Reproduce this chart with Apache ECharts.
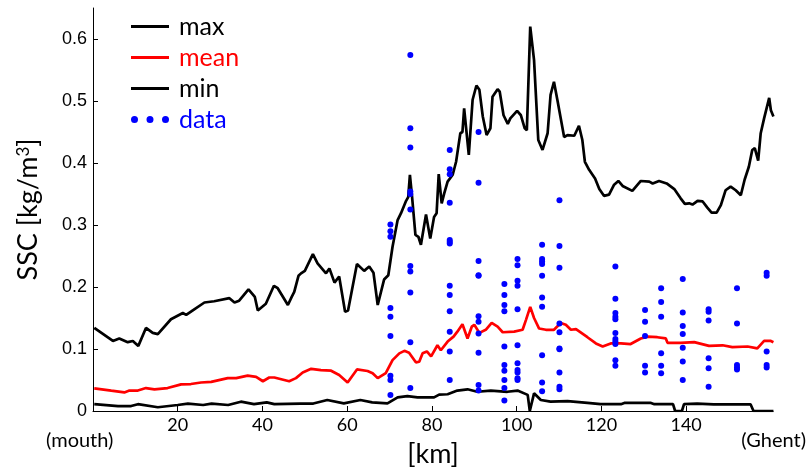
<!DOCTYPE html>
<html>
<head>
<meta charset="utf-8">
<script src="https://cdn.jsdelivr.net/npm/echarts@6/dist/echarts.min.js"></script>
<style>html,body{margin:0;padding:0;background:#fff}#c{width:808px;height:473px}</style>
</head>
<body>
<div id="c"></div>
<script>
// ---- data ----
const maxLine = [[0.3,0.134],[4.7,0.113],[6.2,0.117],[8.2,0.111],[9.4,0.113],[10.7,0.105],[12.5,0.134],[14.1,0.126],[15.3,0.124],[18.4,0.148],[21.2,0.158],[22,0.155],[23.9,0.164],[26.3,0.175],[28.6,0.177],[32.2,0.182],[33.4,0.175],[34.5,0.178],[36.7,0.196],[38.2,0.184],[38.9,0.162],[40.8,0.173],[42.7,0.202],[43.6,0.198],[46,0.171],[46.9,0.184],[47.5,0.192],[48.5,0.218],[49.1,0.222],[50,0.226],[51.9,0.253],[53,0.238],[55,0.222],[55.8,0.230],[57,0.207],[58.1,0.217],[59.5,0.160],[60.2,0.162],[62.3,0.237],[64,0.226],[65.2,0.233],[66.2,0.223],[67.2,0.171],[68.7,0.212],[69.7,0.219],[70.7,0.265],[71.9,0.308],[72.7,0.319],[73.9,0.339],[74.4,0.345],[74.8,0.381],[75.3,0.346],[76.1,0.284],[76.8,0.281],[77.4,0.268],[78.6,0.317],[79.6,0.278],[80.5,0.313],[81.1,0.319],[81.6,0.382],[82.3,0.335],[82.9,0.351],[83.7,0.370],[84.9,0.381],[85.7,0.402],[86.7,0.448],[87.2,0.450],[87.6,0.488],[88.7,0.413],[89.6,0.502],[90.5,0.525],[91.2,0.518],[92,0.475],[92.9,0.445],[93.8,0.456],[94.3,0.507],[95.5,0.519],[96,0.515],[96.9,0.477],[97.9,0.463],[98.5,0.472],[100.1,0.484],[101,0.477],[101.9,0.456],[102.4,0.453],[103.2,0.62],[104.1,0.566],[105.1,0.437],[106.1,0.421],[107.3,0.448],[108,0.51],[108.8,0.531],[109.6,0.502],[111.2,0.442],[112,0.445],[113.6,0.444],[114.7,0.460],[115.5,0.437],[116.1,0.402],[117.1,0.389],[118.5,0.375],[119.5,0.358],[120.6,0.347],[121.8,0.349],[123,0.365],[124,0.371],[125,0.363],[127.3,0.355],[129.3,0.371],[131.3,0.370],[132.1,0.367],[133.6,0.371],[135.4,0.367],[137.2,0.358],[138.7,0.343],[139.7,0.334],[140.7,0.335],[141.5,0.333],[142.7,0.339],[143.9,0.338],[145,0.328],[146,0.320],[147.2,0.320],[148.2,0.332],[149.3,0.356],[150.5,0.362],[151.7,0.356],[152.9,0.348],[153.8,0.373],[154.8,0.394],[155.6,0.421],[156.2,0.424],[157,0.404],[157.6,0.448],[158.4,0.472],[159.6,0.505],[160,0.485],[160.6,0.475]];

const meanLine = [[0.3,0.0366],[4.3,0.0328],[7.4,0.030],[8.6,0.033],[10.6,0.033],[12.5,0.037],[14.5,0.035],[17.6,0.037],[20.8,0.043],[23.1,0.0435],[25.5,0.046],[27.9,0.047],[31.8,0.053],[33.8,0.053],[36.5,0.057],[38.5,0.055],[40.1,0.048],[41.6,0.054],[42.8,0.054],[46.3,0.048],[47.9,0.053],[49.5,0.062],[51.5,0.068],[53.8,0.066],[56.2,0.065],[58.1,0.058],[60.1,0.046],[62.3,0.067],[64.8,0.0645],[66,0.061],[67.2,0.053],[69.1,0.061],[70.7,0.082],[72.3,0.093],[73.5,0.097],[74.6,0.094],[76.2,0.0785],[77,0.0795],[77.8,0.093],[78.8,0.096],[79.8,0.088],[81.3,0.106],[82.1,0.098],[83.7,0.112],[85.1,0.120],[86,0.128],[87.2,0.140],[88.4,0.117],[89.4,0.136],[90,0.139],[91.2,0.126],[92.7,0.131],[94.1,0.142],[95.5,0.136],[96.7,0.127],[99.4,0.128],[101.4,0.131],[102.2,0.147],[103.2,0.168],[104.1,0.150],[105.3,0.133],[106.9,0.131],[108.8,0.131],[110.4,0.142],[111.6,0.139],[112.8,0.131],[114,0.132],[116.7,0.119],[118.7,0.109],[120.3,0.104],[122.2,0.109],[124.6,0.109],[126.9,0.108],[129.3,0.117],[130.9,0.120],[133.2,0.119],[135.2,0.117],[135.6,0.110],[138.7,0.110],[141.9,0.111],[145.4,0.105],[148.6,0.106],[150.9,0.103],[154.5,0.104],[156.8,0.101],[158.4,0.113],[160,0.113],[160.6,0.111]];

const minLine = [[0.3,0.011],[5.9,0.008],[9,0.008],[10.6,0.011],[15.3,0.006],[20,0.0097],[22.4,0.012],[26,0.0097],[28,0.012],[31.9,0.0097],[34.9,0.015],[38,0.011],[41,0.014],[42.8,0.011],[49,0.012],[52,0.012],[55.3,0.0177],[59.2,0.0124],[63.1,0.0177],[65.9,0.014],[69.5,0.0124],[71.9,0.022],[74.2,0.024],[76.6,0.022],[80.5,0.022],[81.7,0.0265],[83.7,0.027],[86,0.033],[88.4,0.035],[90.7,0.031],[93.9,0.033],[97.8,0.031],[100.2,0.033],[102.6,0.026],[103.1,0],[103.4,0],[104.1,0.0285],[105.7,0.0177],[108,0.015],[112,0.016],[116.7,0.013],[119.8,0.011],[124.6,0.011],[125.4,0.013],[131.7,0.013],[132.5,0.011],[136.9,0.011],[137.4,0],[139,0],[139.5,0.011],[142.6,0.012],[146.5,0.0108],[155.2,0.0108],[155.9,0],[160.6,0]];

const stationKm = [70.2, 74.9, 84.2, 91.0, 97.1, 100.2, 106.0, 110.1, 123.3, 130.3, 134.1, 139.2, 145.3, 152.0, 159.0];
const stationSSC = [
  [0.301,0.290,0.281,0.166,0.152,0.121,0.057,0.050,0.026],
  [0.574,0.456,0.425,0.354,0.350,0.325,0.234,0.225,0.191,0.111,0.037],
  [0.421,0.390,0.382,0.336,0.276,0.273,0.270,0.202,0.187,0.161,0.128,0.096,0.050],
  [0.450,0.368,0.242,0.219,0.218,0.153,0.144,0.125,0.094,0.042,0.033],
  [0.205,0.187,0.171,0.161,0.104,0.074,0.065,0.050,0.037,0.017],
  [0.245,0.235,0.210,0.202,0.164,0.106,0.077,0.066,0.062,0.053,0.050],
  [0.268,0.245,0.241,0.237,0.218,0.183,0.168,0.090,0.046,0.032],
  [0.340,0.266,0.231,0.141,0.127,0.101,0.0995,0.062,0.039,0.035],
  [0.233,0.181,0.158,0.152,0.148,0.126,0.116,0.112,0.108,0.082,0.073],
  [0.163,0.144,0.121,0.073,0.062],
  [0.198,0.176,0.152,0.093,0.073,0.061],
  [0.213,0.159,0.137,0.124,0.102,0.080,0.050],
  [0.164,0.160,0.146,0.085,0.069,0.039],
  [0.198,0.141,0.074,0.070,0.067],
  [0.223,0.218,0.096,0.074,0.070]
];
const xTicks = [20, 40, 60, 80, 100, 120, 140];
const yTicks = [0, 0.1, 0.2, 0.3, 0.4, 0.5, 0.6];
const legendNames = ['max', 'mean', 'min', 'data'];

// ---- build ----
const scatterData = [];
stationKm.forEach((km, i) => stationSSC[i].forEach(v => scatterData.push([km, v])));

const chart = echarts.init(document.getElementById('c'), null, {renderer: 'canvas'});
const dotsIcon = 'path://M0,3.5a3.5,3.5 0 1,0 7,0a3.5,3.5 0 1,0 -7,0Z M15.5,3.5a3.5,3.5 0 1,0 7,0a3.5,3.5 0 1,0 -7,0Z M31,3.5a3.5,3.5 0 1,0 7,0a3.5,3.5 0 1,0 -7,0Z';
const barIcon = 'path://M0,0H38V2.8H0Z';

chart.setOption({
  animation: false,
  backgroundColor: '#fff',
  grid: {left: 93, right: 35, top: 8, bottom: 62, containLabel: false},
  legend: {
    orient: 'vertical',
    left: 126, top: 9,
    itemWidth: 38, itemHeight: 14, itemGap: 6,
    textStyle: {fontFamily: 'Lato', fontSize: 25, lineHeight: 24, padding: [0, 0, 0, 5]},
    data: [
      {name: legendNames[0], icon: barIcon, itemStyle: {color: '#000', borderWidth: 0}, lineStyle: {width: 0}, textStyle: {color: '#000'}},
      {name: legendNames[1], icon: barIcon, itemStyle: {color: '#ff0000', borderWidth: 0}, lineStyle: {width: 0}, textStyle: {color: '#ff0000'}},
      {name: legendNames[2], icon: barIcon, itemStyle: {color: '#000', borderWidth: 0}, lineStyle: {width: 0}, textStyle: {color: '#000'}},
      {name: legendNames[3], icon: dotsIcon, itemStyle: {color: '#0000ff', opacity: 1}, textStyle: {color: '#0000ff'}}
    ]
  },
  xAxis: {
    type: 'value', min: 0, max: 160.5, interval: 20,
    name: '[km]', nameLocation: 'middle', nameGap: 30,
    nameTextStyle: {fontFamily: 'Lato', fontSize: 27, color: '#000'},
    axisLine: {lineStyle: {color: '#000', width: 1}},
    axisTick: {inside: true, length: 5, customValues: xTicks, lineStyle: {color: '#000'}},
    axisLabel: {customValues: xTicks, fontFamily: 'Lato', fontSize: 18, color: '#000', margin: 5},
    splitLine: {show: false}
  },
  yAxis: {
    type: 'value', min: 0, max: 0.65, interval: 0.1,
    name: 'SSC [kg/m{sup|3}]', nameLocation: 'middle', nameGap: 51, nameRotate: 90,
    nameTextStyle: {fontFamily: 'Lato', fontSize: 27, color: '#000',
      rich: {sup: {fontFamily: 'Lato', fontSize: 17, verticalAlign: 'top', padding: [0, 0, 10, 0], color: '#000'}}},
    axisLine: {lineStyle: {color: '#000', width: 1}},
    axisTick: {inside: true, length: 5, customValues: yTicks, lineStyle: {color: '#000'}},
    axisLabel: {customValues: yTicks, fontFamily: 'Liberation Sans', fontSize: 18, color: '#000', margin: 6,
      formatter: v => v === 0 ? '0' : v.toFixed(1)},
    splitLine: {show: false}
  },
  graphic: [
    {type: 'text', left: 46, top: 431, style: {text: '(mouth)', font: '20px Lato', fill: '#000'}},
    {type: 'text', right: 2, top: 431, style: {text: '(Ghent)', font: '20px Lato', fill: '#000'}}
  ],
  series: [
    {name: 'max', type: 'line', data: maxLine, symbol: 'none', lineStyle: {color: '#000', width: 2.7}, itemStyle: {color: '#000'}, z: 2},
    {name: 'mean', type: 'line', data: meanLine, symbol: 'none', lineStyle: {color: '#ff0000', width: 2.7}, itemStyle: {color: '#ff0000'}, z: 2},
    {name: 'min', type: 'line', data: minLine, symbol: 'none', lineStyle: {color: '#000', width: 2.7}, itemStyle: {color: '#000'}, z: 2},
    {name: 'data', type: 'scatter', data: scatterData, symbol: 'circle', symbolSize: 6, itemStyle: {color: '#0000ff', opacity: 1}, z: 3}
  ]
});
</script>
</body>
</html>
